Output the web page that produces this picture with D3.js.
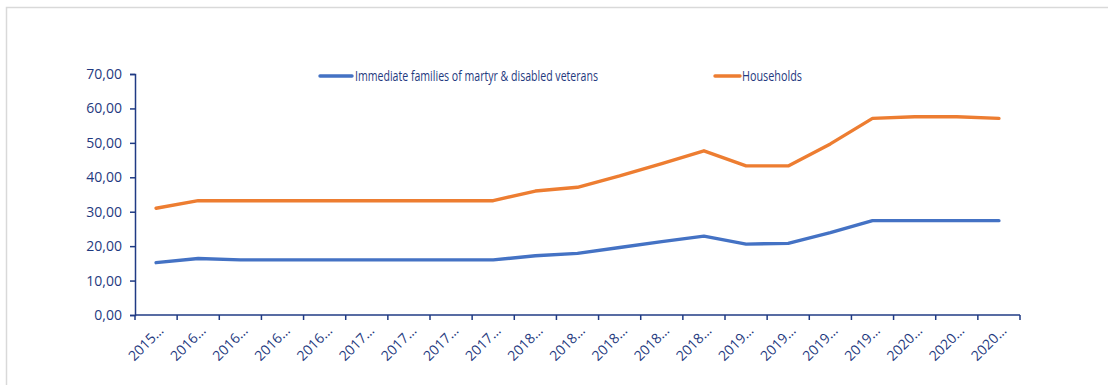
<!DOCTYPE html>
<html>
<head>
<meta charset="utf-8">
<script src="https://cdn.jsdelivr.net/npm/d3@7"></script>
<style>
  html, body { margin: 0; padding: 0; background: #fff; }
  svg { display: block; }
  text { font-family: "Open Sans", "Noto Sans", sans-serif; }
</style>
</head>
<body>
<script>
const categories = ["2015…","2016…","2016…","2016…","2016…","2017…","2017…","2017…","2017…","2018…","2018…","2018…","2018…","2018…","2019…","2019…","2019…","2019…","2020…","2020…","2020…"];
const seriesNames = ["Immediate families of martyr & disabled veterans", "Households"];
const martyrFamilies = [15.2,16.4,16.0,16.0,16.0,16.0,16.0,16.0,16.0,17.2,17.9,19.6,21.3,22.9,20.6,20.8,23.9,27.4,27.4,27.4,27.4];
const households = [31.0,33.2,33.2,33.2,33.2,33.2,33.2,33.2,33.2,36.0,37.1,40.4,44.0,47.7,43.3,43.3,49.7,57.1,57.6,57.6,57.1];
const yTicks = [0,10,20,30,40,50,60,70];
const colors = ["#4472C4", "#ED7D31"];

const W = 1108, H = 385;
const axisColor = "#203B84";
const textColor = "#1F3A80";
const svg = d3.select("body").append("svg").attr("width", W).attr("height", H);

// chart border
svg.append("rect").attr("x", 6.5).attr("y", 7.5).attr("width", 1200).attr("height", 500)
  .attr("fill", "none").attr("stroke", "#D9D9D9").attr("stroke-width", 1.5);

const mLeft = 135, mRight = 1020, mTop = 74, mBottom = 315;
const x = d3.scaleBand().domain(d3.range(categories.length)).range([mLeft, mRight]);
const y = d3.scaleLinear().domain([0, 70]).range([mBottom, mTop]);

// y axis
const yAxis = d3.axisLeft(y).tickValues(yTicks).tickSize(5).tickPadding(8)
  .tickFormat(d => d3.format(".2f")(d).replace(".", ","));
const gy = svg.append("g").attr("transform", `translate(${mLeft},0)`).call(yAxis);
gy.select(".domain").attr("stroke", axisColor).attr("stroke-width", 1.5);
gy.selectAll(".tick line").attr("stroke", axisColor).attr("stroke-width", 1.5);
gy.selectAll(".tick text").attr("fill", textColor).style("font-size", "14px")
  .style("font-family", "'Open Sans', sans-serif");

// x axis: ticks at category boundaries
const boundaries = d3.range(categories.length + 1).map(i => mLeft + i * x.step());
const gx = svg.append("g");
gx.append("line").attr("x1", mLeft).attr("x2", mRight).attr("y1", mBottom).attr("y2", mBottom)
  .attr("stroke", axisColor).attr("stroke-width", 1.5);
gx.selectAll("line.tk").data(boundaries).join("line").attr("class", "tk")
  .attr("x1", d => d).attr("x2", d => d).attr("y1", mBottom).attr("y2", mBottom + 5)
  .attr("stroke", axisColor).attr("stroke-width", 1.5);
gx.selectAll("text").data(categories).join("text")
  .attr("transform", (d, i) => `translate(${x(i) + x.bandwidth() / 2 + 5},${mBottom + 13}) rotate(-45)`)
  .attr("text-anchor", "end").attr("dy", "0.35em")
  .attr("fill", textColor).style("font-size", "14px")
  .text(d => d);

// lines
const line = d3.line().x((d, i) => x(i) + x.bandwidth() / 2).y(d => y(d));
[martyrFamilies, households].forEach((s, k) => {
  svg.append("path").datum(s).attr("d", line).attr("fill", "none")
    .attr("stroke", colors[k]).attr("stroke-width", 3.4)
    .attr("stroke-linejoin", "round").attr("stroke-linecap", "round");
});

// legend
const legendItems = [{x1: 320, x2: 352, tx: 355, len: 243}, {x1: 715, x2: 740, tx: 742, len: 60}];
legendItems.forEach((p, k) => {
  svg.append("line").attr("x1", p.x1).attr("x2", p.x2).attr("y1", 76).attr("y2", 76)
    .attr("stroke", colors[k]).attr("stroke-width", 3.4).attr("stroke-linecap", "round");
  svg.append("text").attr("x", p.tx).attr("y", 76).attr("dy", "0.35em")
    .attr("fill", textColor).style("font-size", "14px")
    .attr("textLength", p.len).attr("lengthAdjust", "spacingAndGlyphs")
    .text(seriesNames[k]);
});
</script>
</body>
</html>
